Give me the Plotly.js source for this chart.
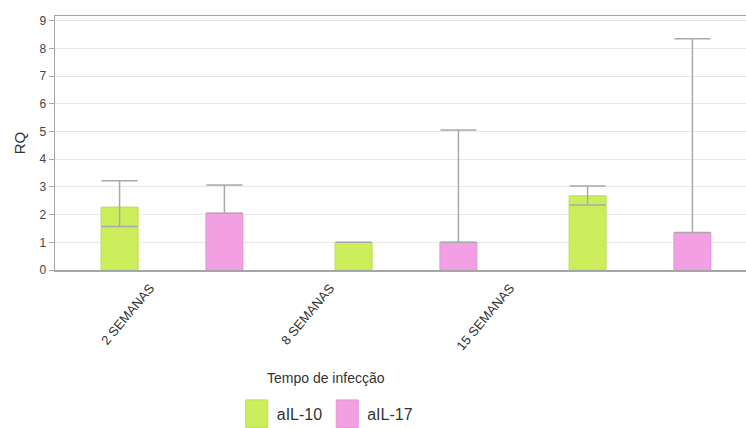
<!DOCTYPE html>
<html>
<head>
<meta charset="utf-8">
<script src="https://cdn.plot.ly/plotly-3.0.1.min.js"></script>
<style>html,body{margin:0;padding:0;background:#fff;}#chart{width:746px;height:428px;}</style>
</head>
<body>
<div id="chart"></div>
<script>
// Data
const categories = ["2 SEMANAS", "8 SEMANAS", "15 SEMANAS"];
const seriesNames = ["aIL-10", "aIL-17"];
const il10Values = [2.27, 1.0, 2.68];
const il10ErrPlus = [0.95, 0.0, 0.35];
const il10ErrMinus = [0.70, 0.0, 0.33];
const il17Values = [2.05, 1.0, 1.35];
const il17ErrPlus = [1.02, 4.05, 7.0];
const il17ErrMinus = [0.0, 0.0, 0.0];
const yTickVals = [0, 1, 2, 3, 4, 5, 6, 7, 8, 9];
const xTitle = "Tempo de infecção";
const yTitle = "RQ";

const errStyle = {color: "#a9a9a9", thickness: 1.5, width: 18};

const traces = [
  {
    type: "bar", name: seriesNames[0], x: categories, y: il10Values,
    marker: {color: "#cdee5c", line: {color: "#bcdc52", width: 1}},
    error_y: Object.assign({type: "data", symmetric: false, array: il10ErrPlus, arrayminus: il10ErrMinus}, errStyle),
    hoverinfo: "y"
  },
  {
    type: "bar", name: seriesNames[1], x: categories, y: il17Values,
    marker: {color: "#f29fe4", line: {color: "#e596d8", width: 1}},
    error_y: Object.assign({type: "data", symmetric: false, array: il17ErrPlus, arrayminus: il17ErrMinus}, errStyle),
    hoverinfo: "y"
  }
];

const layout = {
  width: 746, height: 428,
  margin: {l: 55, r: 0, t: 16, b: 158},
  paper_bgcolor: "#ffffff", plot_bgcolor: "#ffffff",
  font: {family: "Liberation Sans, Arial, sans-serif", color: "#444"},
  barmode: "group", bargap: 0.104, bargroupgap: 0.647,
  showlegend: true,
  legend: {orientation: "h", x: 0.394, xanchor: "center", y: -0.3, yanchor: "top",
           font: {size: 16, color: "#333"}, itemwidth: 30, tracegroupgap: 0, bgcolor: "rgba(0,0,0,0)"},
  xaxis: {
    type: "category", range: [-0.5, 2.453],
    showticklabels: false, ticks: "",
    showline: true, linecolor: "#a6a6a6", linewidth: 1.5, mirror: true,
    showgrid: false, zeroline: false, fixedrange: true
  },
  xaxis2: {
    type: "linear", overlaying: "x", anchor: "y", side: "bottom",
    range: [-0.528, 3.311],
    tickmode: "array", tickvals: [0, 1, 2], ticktext: categories,
    tickangle: -50, ticks: "", ticklabelstandoff: 7, tickfont: {size: 13, color: "#333"},
    showline: false, showgrid: false, zeroline: false, fixedrange: true
  },
  yaxis: {
    range: [0, 9.17], tickmode: "array", tickvals: yTickVals,
    ticks: "outside", ticklen: 5, tickcolor: "#a6a6a6",
    tickfont: {size: 12, color: "#444"},
    showline: true, linecolor: "#a6a6a6", linewidth: 1.5,
    showgrid: true, gridcolor: "#e9e9e9", gridwidth: 1, zeroline: false,
    title: {text: yTitle, font: {size: 15, color: "#333"}, standoff: 10},
    fixedrange: true
  },
  annotations: [
    {text: xTitle, xref: "paper", yref: "paper", x: (326-55)/691, y: -(378-270)/254,
     xanchor: "center", yanchor: "middle", showarrow: false, font: {size: 14, color: "#333"}}
  ]
};

// invisible anchor so the label axis is drawn
traces.push({type: "scatter", x: [0, 2], y: [null, null], xaxis: "x2", yaxis: "y",
             mode: "markers", showlegend: false, hoverinfo: "skip"});

Plotly.newPlot("chart", traces, layout, {displayModeBar: false, staticPlot: true}).then(function () {
  document.querySelectorAll(".legend .legendpoints path").forEach(function (p) {
    p.setAttribute("d", "M11,14H-11V-14H11Z");
  });
  // move the legend group to the reference's vertical position
  const lg = document.querySelector(".legend");
  if (lg) {
    const t = lg.getAttribute("transform") || "";
    const m = t.match(/translate\(([-\d.]+)[ ,]+([-\d.]+)\)/);
    if (m) {
      const box = lg.getBBox();
      const curMid = parseFloat(m[2]) + box.y + box.height / 2;
      lg.setAttribute("transform", "translate(" + m[1] + "," + (parseFloat(m[2]) + (414 - curMid)) + ")");
    }
  }
});
</script>
</body>
</html>
